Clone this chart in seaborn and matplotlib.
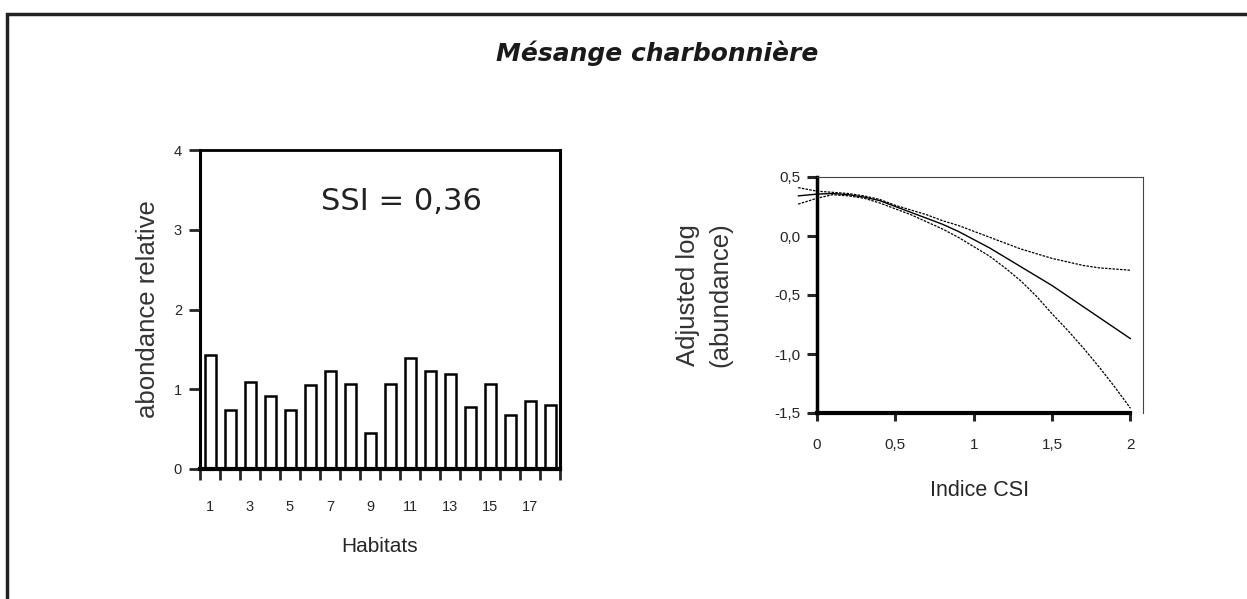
import matplotlib
matplotlib.use("Agg")
import matplotlib.pyplot as plt
import numpy as np
import pandas as pd
import seaborn as sns
from matplotlib.patches import Rectangle

# bar chart data
habitats = [str(i) for i in range(1, 19)]
abondance = [1.43, 0.74, 1.09, 0.92, 0.74, 1.05, 1.23, 1.07, 0.45,
             1.07, 1.39, 1.23, 1.19, 0.78, 1.07, 0.68, 0.85, 0.80]
ssi_label = "SSI = 0,36"

# smoothed fit with confidence band
csi = [-0.12, 0.0, 0.1, 0.2, 0.3, 0.4, 0.5, 0.6, 0.7, 0.8, 0.9, 1.0,
       1.1, 1.2, 1.3, 1.4, 1.5, 1.6, 1.7, 1.8, 1.9, 2.0]
fit = [0.34, 0.355, 0.36, 0.35, 0.33, 0.30, 0.25, 0.20, 0.15, 0.10, 0.04, -0.03,
       -0.10, -0.18, -0.26, -0.34, -0.42, -0.51, -0.60, -0.69, -0.78, -0.87]
upper = [0.41, 0.38, 0.37, 0.36, 0.34, 0.31, 0.26, 0.22, 0.18, 0.13, 0.09, 0.04,
         -0.01, -0.06, -0.11, -0.15, -0.19, -0.22, -0.25, -0.27, -0.28, -0.29]
lower = [0.27, 0.32, 0.35, 0.34, 0.32, 0.28, 0.23, 0.18, 0.12, 0.06, -0.01, -0.09,
         -0.17, -0.27, -0.38, -0.51, -0.66, -0.80, -0.95, -1.11, -1.28, -1.46]
y_ticks_r = [-1.5, -1.0, -0.5, 0.0, 0.5]
x_ticks_r = [0, 0.5, 1, 1.5, 2]

sns.set_style("white")
plt.rcParams["font.family"] = ["Liberation Sans", "DejaVu Sans"]

W, H = 1247, 599
fig = plt.figure(figsize=(W / 100, H / 100), dpi=100)

# outer frame
fig.patches.append(Rectangle((7 / W, -0.1), 1.2, 1 - 14 / H + 0.1, transform=fig.transFigure,
                             fill=False, edgecolor="#222222", linewidth=2.5))

fig.text(657 / W, 1 - 53 / H, "Mésange charbonnière", ha="center", va="center",
         fontsize=18, fontweight="bold", fontstyle="italic", family="DejaVu Sans", color="#1a1a1a")

# ---- left: bar chart
ax1 = fig.add_axes([200 / W, 1 - 469 / H, 360 / W, 319 / H])
df = pd.DataFrame({"habitat": habitats, "abondance": abondance})
sns.barplot(data=df, x="habitat", y="abondance", ax=ax1, color="white",
            edgecolor="black", linewidth=1.8, width=0.55)
ax1.set_xlim(-0.5, 17.5)
ax1.set_ylim(0, 4)
ax1.set_yticks([0, 1, 2, 3, 4])
ax1.set_yticklabels(["0", "1", "2", "3", "4"])
ax1.set_xticks(np.arange(-0.5, 18, 1))
ax1.set_xticklabels([])
ax1.set_xticks(np.arange(0, 18, 2), minor=True)
ax1.set_xticklabels(habitats[::2], minor=True)
ax1.tick_params(axis="x", which="major", direction="out", length=8, width=2, bottom=True)
ax1.tick_params(axis="x", which="minor", length=0, pad=22, labelsize=10.5)
ax1.tick_params(axis="y", direction="out", length=8, width=2, left=True, pad=5, labelsize=10.5)
for s, lw in [("left", 2.2), ("bottom", 3), ("right", 2.2), ("top", 2)]:
    ax1.spines[s].set_visible(True)
    ax1.spines[s].set_color("black")
    ax1.spines[s].set_linewidth(lw)
ax1.set_xlabel("Habitats", fontsize=15, labelpad=17)
ax1.set_ylabel("abondance relative", fontsize=18.5, labelpad=10, color="#333333")
ax1.text(9.55, 3.36, ssi_label, ha="center", va="center", fontsize=22,
         family="DejaVu Sans", color="#222222")

# ---- right: fitted curve
ax2 = fig.add_axes([817 / W, 1 - 413 / H, 326 / W, 236 / H])
curves = pd.DataFrame({"csi": csi, "fit": fit, "upper": upper, "lower": lower})
sns.lineplot(data=curves, x="csi", y="fit", ax=ax2, color="black", linewidth=1.0, clip_on=False)
sns.lineplot(data=curves, x="csi", y="upper", ax=ax2, color="black", linewidth=0.9,
             linestyle=(0, (2, 1)), clip_on=False)
sns.lineplot(data=curves, x="csi", y="lower", ax=ax2, color="black", linewidth=0.9,
             linestyle=(0, (2, 1)), clip_on=False)
ax2.set_xlim(0, 2.08)
ax2.set_ylim(-1.5, 0.5)
ax2.set_yticks(y_ticks_r)
ax2.set_yticklabels([f"{v:.1f}".replace(".", ",") for v in y_ticks_r])
ax2.set_xticks(x_ticks_r)
ax2.set_xticklabels([f"{v:g}".replace(".", ",") for v in x_ticks_r])
ax2.tick_params(axis="y", direction="out", length=7, width=2.2, left=True, pad=5, labelsize=11)
ax2.tick_params(axis="x", direction="out", length=6, width=2.2, bottom=True, pad=12, labelsize=11)
ax2.spines["left"].set_linewidth(2.5)
ax2.spines["left"].set_color("black")
ax2.spines["bottom"].set_linewidth(3)
ax2.spines["bottom"].set_color("black")
ax2.spines["bottom"].set_bounds(0, 2)
for s in ["top", "right"]:
    ax2.spines[s].set_visible(True)
    ax2.spines[s].set_color("#444444")
    ax2.spines[s].set_linewidth(0.8)
ax2.axhline(-1.5, color="#444444", linewidth=0.8)
ax2.set_xlabel("Indice CSI", fontsize=15.5, labelpad=20)
ax2.set_ylabel("Adjusted log\n(abundance)", fontsize=18.5, labelpad=30, color="#333333",
               linespacing=1.45)

fig.savefig("out.png", dpi=100)
